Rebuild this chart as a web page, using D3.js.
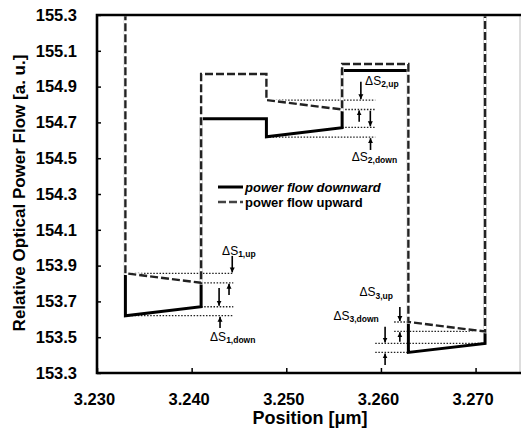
<!DOCTYPE html>
<html>
<head>
<meta charset="utf-8">
<script src="https://cdn.jsdelivr.net/npm/d3@7"></script>
<style>
  html, body { margin: 0; padding: 0; background: #fff; }
  svg { display: block; font-family: "Liberation Sans", Arial, sans-serif; }
</style>
</head>
<body>
<svg id="chart" width="521" height="428"></svg>
<script>
// Layer boundaries (µm) shared by both power-flow traces
const positions = [3.2330, 3.2330, 3.2410, 3.2410, 3.2479, 3.2479, 3.2559, 3.2559, 3.2629, 3.2629, 3.2710, 3.2710];
// Relative optical power flow [a. u.]
const flowDownward = [155.5, 153.62, 153.67, 154.72, 154.72, 154.62, 154.67, 154.99, 154.99, 153.415, 153.465, 155.5];
const flowUpward   = [155.5, 153.857, 153.804, 154.97, 154.97, 154.825, 154.772, 155.026, 155.026, 153.585, 153.532, 155.5];

const xTicks = [3.230, 3.240, 3.250, 3.260, 3.270];
const yTicks = [153.3, 153.5, 153.7, 153.9, 154.1, 154.3, 154.5, 154.7, 154.9, 155.1, 155.3];

// Dotted reference levels: [level, from, to]
const refLevels = [
  [153.857, 3.2330, 3.2444], [153.804, 3.2410, 3.2444], [153.67, 3.2410, 3.2444], [153.62, 3.2330, 3.2444],
  [154.825, 3.2479, 3.2594], [154.772, 3.2559, 3.2594], [154.672, 3.2559, 3.2594], [154.618, 3.2479, 3.2594],
  [153.585, 3.2614, 3.2629], [153.532, 3.2614, 3.2710], [153.465, 3.2594, 3.2710], [153.415, 3.2594, 3.2629]
];
// Arrows: [position, tail level, head level]
const arrows = [
  [3.24429, 153.954, 153.862], [3.24395, 153.736, 153.799],
  [3.24290, 153.775, 153.676], [3.24300, 153.551, 153.614],
  [3.25788, 154.927, 154.830], [3.25770, 154.704, 154.767],
  [3.25888, 154.765, 154.678], [3.25890, 154.546, 154.612],
  [3.26200, 153.669, 153.590], [3.26200, 153.475, 153.527],
  [3.26044, 153.559, 153.470], [3.26044, 153.345, 153.409]
];
// Difference labels: [position, level, subscript]
const deltaLabels = [
  [3.24322, 153.962, "1,up"], [3.24195, 153.479, "1,down"],
  [3.25833, 154.910, "2,up"], [3.25692, 154.487, "2,down"],
  [3.25773, 153.728, "3,up"], [3.25498, 153.597, "3,down"]
];

const svg = d3.select("#chart");
const mLeft = 97, mRight = 521, mTop = 15, mBottom = 373;

const x = d3.scaleLinear().domain([3.230, 3.2748]).range([mLeft, mRight]);
const y = d3.scaleLinear().domain([153.3, 155.3]).range([mBottom, mTop]);

const defs = svg.append("defs");
defs.append("clipPath").attr("id", "plot")
  .append("rect").attr("x", mLeft).attr("y", mTop + 1.5).attr("width", mRight - mLeft).attr("height", mBottom - mTop - 1.5);
defs.append("marker").attr("id", "head")
  .attr("viewBox", "0 0 10 10").attr("refX", 10).attr("refY", 5)
  .attr("markerUnits", "userSpaceOnUse").attr("markerWidth", 5).attr("markerHeight", 6)
  .attr("orient", "auto")
  .append("path").attr("d", "M0,0 L10,5 L0,10 Z").attr("fill", "#000");

const plot = svg.append("g").attr("clip-path", "url(#plot)");

const line = d3.line().x(d => x(d[0])).y(d => y(d[1]));
const downPts = positions.map((p, i) => [p, flowDownward[i]]);
const upPts = positions.map((p, i) => [p, flowUpward[i]]);

// dotted reference levels
plot.selectAll(".ref").data(refLevels).join("line")
  .attr("x1", d => x(d[1])).attr("x2", d => x(d[2]))
  .attr("y1", d => y(d[0])).attr("y2", d => y(d[0]))
  .attr("stroke", "#222").attr("stroke-width", 1.3).attr("stroke-dasharray", "1.5,1.6");

// downward flow (solid)
plot.append("path").datum(downPts).attr("d", line)
  .attr("fill", "none").attr("stroke", "#000").attr("stroke-width", 3)
  .attr("stroke-linejoin", "miter");

// upward flow (dashed) with a white underlay so it hides the solid trace where both coincide
plot.append("path").datum(upPts).attr("d", line)
  .attr("fill", "none").attr("stroke", "#fff").attr("stroke-width", 3.4);
plot.append("path").datum(upPts).attr("d", line)
  .attr("fill", "none").attr("stroke", "#222").attr("stroke-width", 2.4)
  .attr("stroke-dasharray", "8,3");

// arrows
svg.selectAll(".arrow").data(arrows).join("line")
  .attr("x1", d => x(d[0])).attr("x2", d => x(d[0]))
  .attr("y1", d => y(d[1])).attr("y2", d => y(d[2]))
  .attr("stroke", "#000").attr("stroke-width", 1.6)
  .attr("marker-end", "url(#head)");

// ΔS labels
const lab = svg.selectAll(".dlab").data(deltaLabels).join("text")
  .attr("x", d => x(d[0])).attr("y", d => y(d[1]))
  .attr("font-size", 12).attr("fill", "#000");
lab.append("tspan").text("ΔS");
lab.append("tspan").attr("dy", 2.5).attr("font-size", 8.5).attr("font-weight", "bold").text(d => d[2]);

// axes
const yAxis = d3.axisLeft(y).tickValues(yTicks).tickFormat(d3.format(".1f"))
  .tickSizeInner(-4).tickSizeOuter(0).tickPadding(20);
const xAxis = d3.axisBottom(x).tickValues(xTicks).tickFormat(d3.format(".3f"))
  .tickSizeInner(-5).tickSizeOuter(0).tickPadding(20);

const gy = svg.append("g").attr("transform", `translate(${mLeft},0)`).call(yAxis);
const gx = svg.append("g").attr("transform", `translate(0,${mBottom})`).call(xAxis);
[gx, gy].forEach(g => {
  g.select(".domain").remove();
  g.selectAll(".tick line").attr("stroke", "#000").attr("stroke-width", 1.5);
  g.selectAll(".tick text").attr("fill", "#000").attr("font-size", 16.5).attr("font-weight", "bold")
    .attr("font-family", "Liberation Sans, Arial, sans-serif");
});
gx.selectAll(".tick text").attr("dx", -3);

// frame
svg.append("line").attr("x1", mRight - 1).attr("x2", mRight - 1).attr("y1", mTop).attr("y2", mBottom)
  .attr("stroke", "#bbb").attr("stroke-width", 1);
svg.append("path")
  .attr("d", `M${mRight},${mTop} H${mLeft} V${mBottom} H${mRight}`)
  .attr("fill", "none").attr("stroke", "#000").attr("stroke-width", 2.6);

// axis titles
svg.append("text").attr("x", 310).attr("y", 424).attr("text-anchor", "middle")
  .attr("font-size", 18).attr("font-weight", "bold").text("Position [μm]");
svg.append("text").attr("transform", "translate(25,193) rotate(-90)").attr("text-anchor", "middle")
  .attr("font-size", 17).attr("font-weight", "bold").text("Relative Optical Power Flow [a. u.]");

// legend
const legend = svg.append("g");
legend.append("line").attr("x1", 218).attr("x2", 243).attr("y1", 187).attr("y2", 187)
  .attr("stroke", "#000").attr("stroke-width", 3);
legend.append("text").attr("x", 245).attr("y", 191.5).attr("font-size", 13)
  .attr("font-weight", "bold").attr("font-style", "italic").text("power flow downward");
legend.append("line").attr("x1", 218).attr("x2", 243).attr("y1", 202).attr("y2", 202)
  .attr("stroke", "#444").attr("stroke-width", 2.4).attr("stroke-dasharray", "8,3");
legend.append("text").attr("x", 245).attr("y", 206.5).attr("font-size", 13)
  .attr("font-weight", "bold").text("power flow upward");
</script>
</body>
</html>
